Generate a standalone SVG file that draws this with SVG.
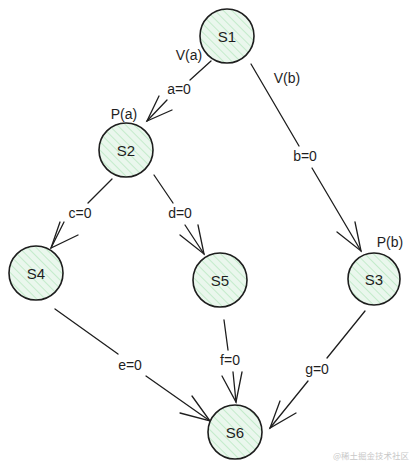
<svg xmlns="http://www.w3.org/2000/svg" width="414" height="469" viewBox="0 0 414 469">
<defs>
<pattern id="hatch" width="6" height="6" patternUnits="userSpaceOnUse" patternTransform="rotate(-45)">
<rect width="6" height="6" fill="#eaf7ed"/>
<line x1="0" y1="0" x2="0" y2="6" stroke="#c4ebcb" stroke-width="2"/>
</pattern>
</defs>
<style>
.node circle{fill:url(#hatch);stroke:#1e1e1e;stroke-width:1.6}
.node text{font-family:"Liberation Sans","DejaVu Sans",sans-serif;font-size:15px;fill:#1e1e1e;text-anchor:middle;dominant-baseline:central}
.edge line,.edge polyline{stroke:#1e1e1e;stroke-width:1.3;fill:none;stroke-linecap:round}
.lbl{font-family:"Liberation Sans","DejaVu Sans",sans-serif;font-size:14px;fill:#1e1e1e;text-anchor:middle;dominant-baseline:central}
.wm{font-family:"Noto Sans CJK SC",sans-serif;font-size:8.5px;fill:#c8c8c8;text-anchor:end}
</style>
<rect width="414" height="469" fill="#ffffff"/>
<g id="connectors">
<g class="edge" id="e-s1-s2">
<line x1="211" y1="61" x2="190" y2="80"/>
<line x1="167" y1="100" x2="147" y2="121"/>
<polyline points="159,96 147,121 172,110"/>
<text class="lbl" x="179" y="89">a=0</text>
</g>
<g class="edge" id="e-s1-s3">
<line x1="251" y1="64" x2="299" y2="146"/>
<line x1="312" y1="168" x2="361" y2="251"/>
<polyline points="337,232 361,251 355,222"/>
<text class="lbl" x="305" y="156">b=0</text>
</g>
<g class="edge" id="e-s2-s4">
<line x1="112" y1="179" x2="88" y2="203"/>
<line x1="64" y1="222" x2="51" y2="248"/>
<polyline points="60,222 51,248 78,235"/>
<text class="lbl" x="80" y="213">c=0</text>
</g>
<g class="edge" id="e-s2-s5">
<line x1="154" y1="175" x2="173" y2="203"/>
<line x1="185" y1="225" x2="204" y2="254"/>
<polyline points="180,235 204,254 198,225"/>
<text class="lbl" x="180" y="213">d=0</text>
</g>
<g class="edge" id="e-s4-s6">
<line x1="55" y1="309" x2="118" y2="354"/>
<line x1="146" y1="376" x2="210" y2="421"/>
<polyline points="180,413 210,421 192,396"/>
<text class="lbl" x="130" y="365">e=0</text>
</g>
<g class="edge" id="e-s5-s6">
<line x1="224" y1="320" x2="228" y2="350"/>
<line x1="233" y1="372" x2="236" y2="402"/>
<polyline points="222,376 236,402 242,372"/>
<text class="lbl" x="230" y="360">f=0</text>
</g>
<g class="edge" id="e-s3-s6">
<line x1="365" y1="311" x2="327" y2="358"/>
<line x1="308" y1="381" x2="270" y2="428"/>
<polyline points="280,401 270,428 296,413"/>
<text class="lbl" x="317" y="369">g=0</text>
</g>
</g>
<g id="S1" class="node"><circle cx="227" cy="36" r="27"/><text x="227" y="36">S1</text></g>
<g id="S2" class="node"><circle cx="126" cy="150" r="27"/><text x="126" y="150">S2</text></g>
<g id="S3" class="node"><circle cx="374" cy="279" r="26"/><text x="374" y="279">S3</text></g>
<g id="S4" class="node"><circle cx="36" cy="273" r="27"/><text x="36" y="273">S4</text></g>
<g id="S5" class="node"><circle cx="220" cy="280" r="27"/><text x="220" y="280">S5</text></g>
<g id="S6" class="node"><circle cx="235" cy="432" r="27"/><text x="235" y="432">S6</text></g>
<g id="annotations">
<text class="lbl" x="189" y="55">V(a)</text>
<text class="lbl" x="287" y="78">V(b)</text>
<text class="lbl" x="124" y="114">P(a)</text>
<text class="lbl" x="390" y="242">P(b)</text>
<text class="wm" x="409" y="459">@稀土掘金技术社区</text>
</g>
</svg>
